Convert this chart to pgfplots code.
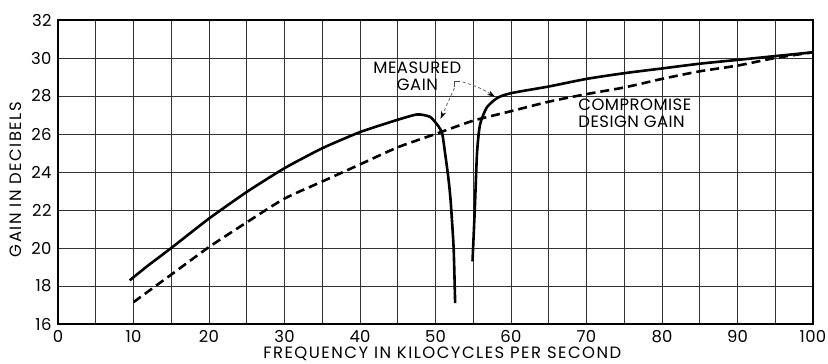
\documentclass[border=0pt]{standalone}
\usepackage{pgfplots}
\pgfplotsset{compat=1.18}
\usepackage{fontspec}
\setmainfont{Poppins}
\usetikzlibrary{arrows.meta}
\begin{document}
\begin{tikzpicture}[x=1bp,y=1bp]
\useasboundingbox (0,0) rectangle (828,363);
\begin{axis}[
  at={(58bp,39bp)}, anchor=south west, scale only axis,
  width=755bp, height=304bp,
  xmin=0, xmax=100, ymin=16, ymax=32,
  xtick={0,10,...,100}, minor xtick={5,15,...,95},
  ytick={16,18,...,32},
  grid=both,
  major grid style={black!80, line width=0.9bp},
  minor grid style={black!80, line width=0.9bp},
  axis line style={line width=1.8bp},
  tick style={draw=none},
  /pgf/number format/assume math mode=true,
  ticklabel style={font=\addfontfeatures{LetterSpace=2}\fontsize{16.5}{17}\selectfont},
  xticklabel style={yshift=-3bp},
  yticklabel style={xshift=-3bp},
  xlabel={FREQUENCY IN KILOCYCLES PER SECOND},
  ylabel={GAIN IN DECIBELS},
  label style={font=\addfontfeatures{LetterSpace=9}\fontsize{16.5}{17}\selectfont},
  xlabel style={at={(axis description cs:0.509,0)}, anchor=base, yshift=-34bp},
  ylabel style={at={(axis description cs:0,0.475)}, anchor=center, xshift=0bp, yshift=42bp},
]
% measured gain, lower branch
\addplot[black, line width=2.6bp, smooth, tension=0.35] coordinates {
(9.5,18.3) (12,19.1) (15,20.0) (20,21.55) (25,22.95) (30,24.2) (35,25.25) (40,26.1)
(45,26.75) (47.6,27.03) (49.3,26.9) (50.4,26.4) (50.9,26.0) (51.3,24.9) (51.7,23.7)
(52.0,22.5) (52.4,20.0) (52.6,17.1)};
% measured gain, upper branch
\addplot[black, line width=2.6bp, smooth, tension=0.4] coordinates {
(54.9,19.3) (55.2,22.0) (55.5,25.0) (55.9,26.5) (56.8,27.4) (58.2,27.9) (60,28.15)
(65,28.5) (70,28.9) (75,29.2) (80,29.45) (85,29.7) (90,29.9) (95,30.1) (100,30.3)};
% compromise design gain
\addplot[black, line width=2.6bp, dash pattern=on 9bp off 5bp, smooth, tension=0.4] coordinates {
(10,17.15) (15,18.6) (20,20.05) (25,21.35) (30,22.6) (35,23.5) (40,24.4) (45,25.3)
(50,26.0) (55,26.7) (60,27.2) (65,27.7) (70,28.1) (75,28.45) (80,28.9) (85,29.3)
(90,29.6) (95,30.0) (100,30.3)};
% annotations
\node[font=\addfontfeatures{LetterSpace=3}\fontsize{16.5}{17}\selectfont, align=center, inner sep=1bp]
  at (axis cs:47.6,29.05) {MEASURED\\GAIN};
\node[font=\addfontfeatures{LetterSpace=3}\fontsize{16.5}{17}\selectfont, align=left, anchor=west, inner sep=0bp]
  at (axis cs:68.9,27.08) {COMPROMISE\\DESIGN GAIN};
\draw[black!70, line width=0.8bp] (axis cs:52.5,28.45) -- (axis cs:52.5,28.79) -- (axis cs:53.3,28.79);
\draw[black!60, line width=0.8bp, dash pattern=on 3bp off 2.5bp, -{Stealth[length=8bp,width=5bp,black]}]
  (axis cs:53.6,28.74) to[bend left=8] (axis cs:57.9,27.95);
\draw[black!60, line width=0.8bp, dash pattern=on 3bp off 2.5bp, -{Stealth[length=8bp,width=5bp,black]}]
  (axis cs:52.5,28.42) -- (axis cs:50.66,26.79);
\end{axis}
\end{tikzpicture}
\end{document}
